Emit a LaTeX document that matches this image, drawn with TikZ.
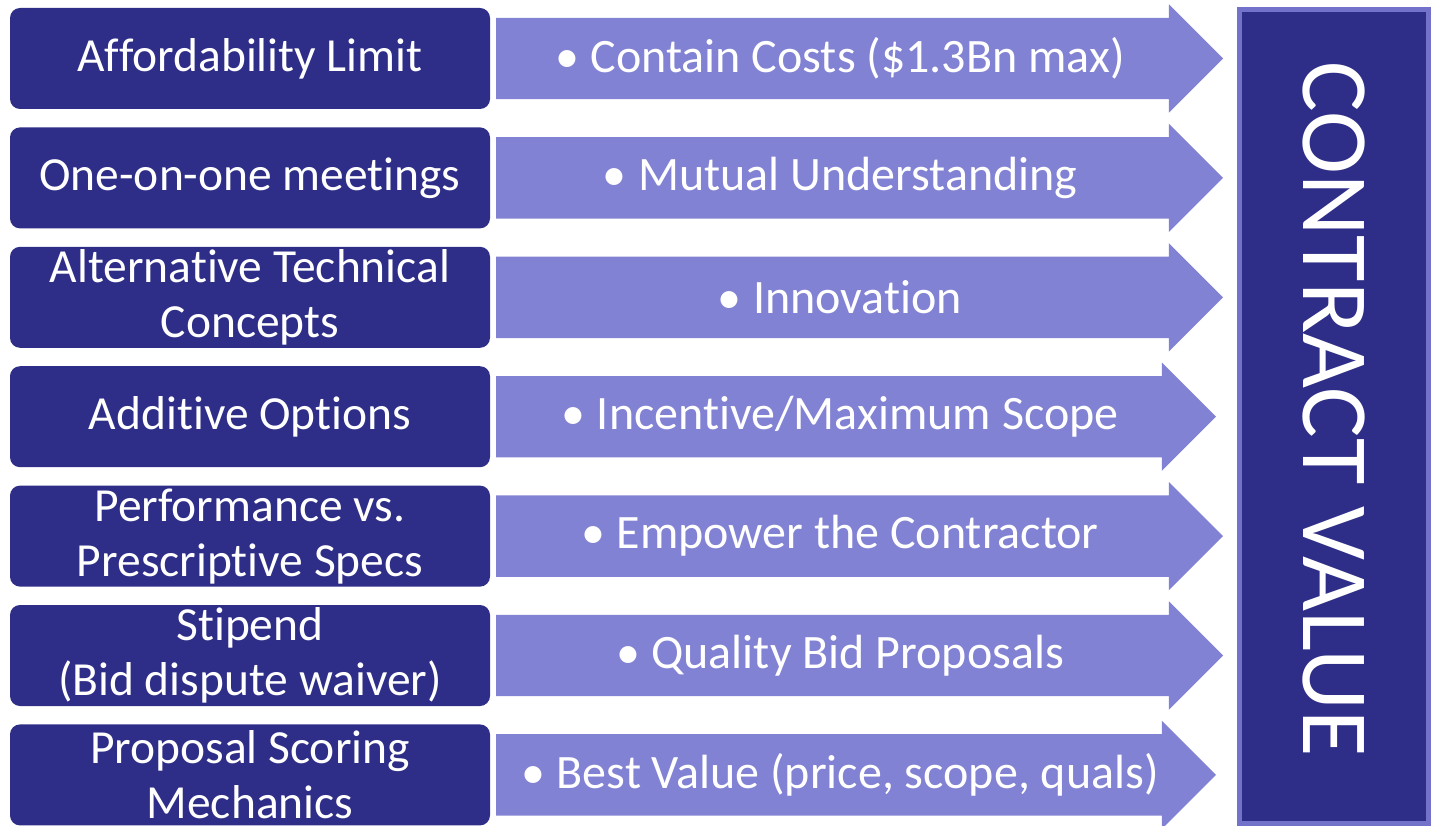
\documentclass[tikz,border=0pt]{standalone}
\usepackage{fontspec}
\setmainfont{Carlito}[Ligatures=NoCommon]
\usetikzlibrary{shapes.arrows}

\definecolor{navy}{RGB}{46,46,136}
\definecolor{lilac}{RGB}{130,130,212}
\definecolor{rim}{RGB}{114,114,202}

% bullet in front of each arrow text
\newcommand{\dotitem}{\textbullet\hspace{0.24em}}

\tikzset{
  lever/.style={rectangle, rounded corners=10pt, fill=navy, text=white,
    minimum width=480pt, minimum height=101pt, inner sep=0pt, outer sep=0pt,
    align=center, font=\fontsize{47.5}{55}\selectfont},
  push/.style={single arrow, fill=lilac, inner xsep=0pt, inner ysep=40.5pt,
    outer sep=0pt, minimum width=108pt, single arrow head extend=13.5pt,
    single arrow tip angle=90, single arrow head indent=0pt, anchor=tail},
  gain/.style={text=white, inner sep=0pt, font=\fontsize{48}{55}\selectfont}
}

\begin{document}
\begin{tikzpicture}[x=1pt,y=-1pt]
  \useasboundingbox (0,0) rectangle (1431,826);

  % left column
  \node[lever] (a1) at (250,58.5){Affordability Limit};
  \node[lever] (a2) at (250,177.9){One-on-one meetings};
  \node[lever] (a3) at (250,297.3){Alternative Technical\\Concepts};
  \node[lever] (a4) at (250,416.7){Additive Options};
  \node[lever] (a5) at (250,536.1){Performance vs.\\Prescriptive Specs};
  \node[lever] (a6) at (250,655.5){Stipend\\(Bid dispute waiver)};
  \node[lever] (a7) at (250,774.9){Proposal Scoring\\Mechanics};

  % arrows
  \node[push, minimum height=727pt] (b1) at (496,58.5){};
  \node[push, minimum height=727pt] (b2) at (496,177.9){};
  \node[push, minimum height=727pt] (b3) at (496,297.3){};
  \node[push, minimum height=720pt] (b4) at (496,416.7){};
  \node[push, minimum height=727pt] (b5) at (496,536.1){};
  \node[push, minimum height=727pt] (b6) at (496,655.5){};
  \node[push, minimum height=720pt] (b7) at (496,774.9){};

  \node[gain] (t1) at (840,58.5){\dotitem Contain Costs (\$1.3Bn max)};
  \node[gain] (t2) at (840,177.9){\dotitem Mutual Understanding};
  \node[gain] (t3) at (840,297.3){\dotitem Innovation};
  \node[gain] (t4) at (840,416.7){\dotitem Incentive/Maximum Scope};
  \node[gain] (t5) at (840,536.1){\dotitem Empower the Contractor};
  \node[gain] (t6) at (840,655.5){\dotitem Quality Bid Proposals};
  \node[gain] (t7) at (840,774.9){\dotitem Best Value (price, scope, quals)};

  % result box
  \node[rectangle, fill=navy, draw=rim, line width=5pt, minimum width=189pt,
        minimum height=814pt, inner sep=0pt] (cv) at (1334,416.5){};
  \node[text=white, rotate=-90, inner sep=0pt, font=\fontsize{95}{100}\selectfont]
        (cvt) at (1334,409){CONTRACT VALUE};
\end{tikzpicture}
\end{document}
